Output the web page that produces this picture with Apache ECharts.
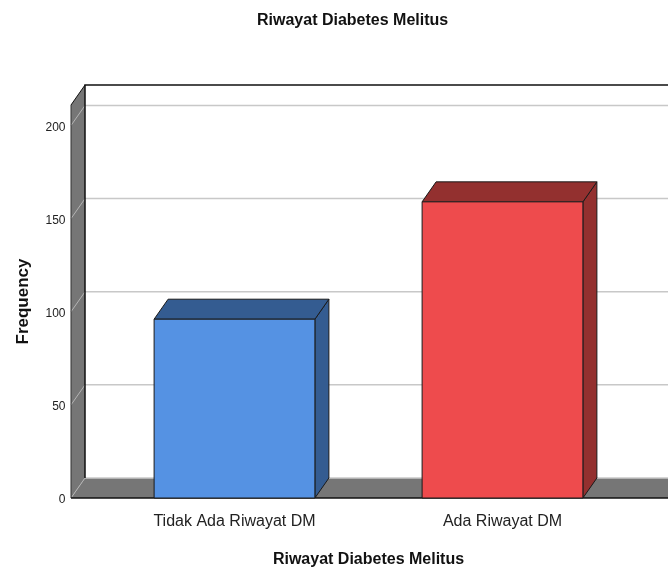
<!DOCTYPE html>
<html>
<head>
<meta charset="utf-8">
<script src="https://cdn.jsdelivr.net/npm/echarts@6/dist/echarts.min.js"></script>
<style>
html,body{margin:0;padding:0;background:#fff;}
#chart{width:668px;height:570px;}
</style>
</head>
<body>
<div id="chart"></div>
<script>
// ---- data ----
const categories = ['Tidak Ada Riwayat DM', 'Ada Riwayat DM'];
const frequency = [96, 159];
const yTicks = [0, 50, 100, 150, 200];
const yMax = 211;

// ---- style ----
const frontColors = ['#5592E3', '#EE4B4D'];
const darkColors = ['#345C91', '#93302F'];
const DEPTH = [14, -20];
const WALL = '#767676';
const FONT = '"Liberation Sans", Arial, sans-serif';

const chart = echarts.init(document.getElementById('chart'));

function renderWalls(params, api) {
  const cs = params.coordSys;
  const dx = DEPTH[0], dy = DEPTH[1];
  const fl = cs.x - 29.5;
  const right = cs.x + cs.width + 200;
  const y0 = api.coord([0, 0])[1];
  const yT = api.coord([0, yMax])[1];
  const children = [];
  children.push({type: 'rect', shape: {x: fl + dx, y: yT + dy, width: right - fl - dx, height: y0 - yT}, style: {fill: '#fff'}});
  // left wall
  children.push({type: 'polygon', shape: {points: [[fl, yT], [fl + dx, yT + dy], [fl + dx, y0 + dy], [fl, y0]]}, style: {fill: WALL}});
  // floor
  children.push({type: 'polygon', shape: {points: [[fl, y0], [fl + dx, y0 + dy], [right, y0 + dy], [right, y0]]}, style: {fill: WALL}});
  // grid lines
  yTicks.forEach(function (t) {
    const yv = api.coord([0, t])[1];
    children.push({type: 'line', shape: {x1: fl + dx, y1: yv + dy, x2: right, y2: yv + dy}, style: {stroke: '#c8c8c8', lineWidth: 1.5}});
    children.push({type: 'line', shape: {x1: fl, y1: yv, x2: fl + dx, y2: yv + dy}, style: {stroke: '#b4b4b4', lineWidth: 1}});
  });
  // edges
  children.push({type: 'polyline', shape: {points: [[fl + dx, y0 + dy], [fl + dx, yT + dy], [right, yT + dy]]}, style: {stroke: '#111', lineWidth: 1.5, fill: null}});
  children.push({type: 'line', shape: {x1: fl, y1: yT, x2: fl + dx, y2: yT + dy}, style: {stroke: '#111', lineWidth: 1}});
  children.push({type: 'line', shape: {x1: fl, y1: yT, x2: fl, y2: y0}, style: {stroke: '#333', lineWidth: 1}});
  children.push({type: 'line', shape: {x1: fl, y1: y0, x2: right, y2: y0}, style: {stroke: '#111', lineWidth: 1.5}});
  return {type: 'group', children: children};
}

function renderBar(params, api) {
  const i = params.dataIndex;
  const c = api.coord([api.value(0), api.value(1)]);
  const b = api.coord([api.value(0), 0]);
  const w = api.size([1, 0])[0] * 0.6;
  const l = c[0] - w / 2, r = c[0] + w / 2, t = c[1], bot = b[1];
  const dx = DEPTH[0], dy = DEPTH[1];
  const edge = {stroke: '#1a1a1a', lineWidth: 1};
  return {type: 'group', children: [
    {type: 'polygon', shape: {points: [[r, t], [r + dx, t + dy], [r + dx, bot + dy], [r, bot]]}, style: Object.assign({fill: darkColors[i]}, edge)},
    {type: 'polygon', shape: {points: [[l, t], [l + dx, t + dy], [r + dx, t + dy], [r, t]]}, style: Object.assign({fill: darkColors[i]}, edge)},
    {type: 'rect', shape: {x: l, y: t, width: w, height: bot - t}, style: Object.assign({fill: frontColors[i]}, edge)}
  ]};
}

chart.setOption({
  animation: false,
  backgroundColor: '#fff',
  title: {
    text: 'Riwayat Diabetes Melitus',
    left: 252, top: 8,
    textStyle: {fontFamily: FONT, fontSize: 16, fontWeight: 'bold', color: '#111'}
  },
  grid: {left: 100.5, right: 31.5, top: 105, bottom: 72, containLabel: false, outerBoundsMode: 'none'},
  xAxis: {
    type: 'category',
    data: categories,
    name: 'Riwayat Diabetes Melitus',
    nameLocation: 'middle',
    nameGap: 54,
    nameTextStyle: {fontFamily: FONT, fontSize: 16, fontWeight: 'bold', color: '#111'},
    axisLine: {show: false},
    axisTick: {show: false},
    axisLabel: {fontFamily: FONT, fontSize: 16, color: '#222', margin: 16}
  },
  yAxis: {
    type: 'value',
    min: 0, max: yMax, interval: 50,
    name: 'Frequency',
    nameLocation: 'middle',
    nameGap: 69,
    nameTextStyle: {fontFamily: FONT, fontSize: 17, fontWeight: 'bold', color: '#111'},
    axisLine: {show: false},
    axisTick: {show: false},
    splitLine: {show: false},
    axisLabel: {fontFamily: FONT, color: '#222', margin: 35, showMaxLabel: false,
      formatter: function (v) { return yTicks.indexOf(v) >= 0 ? '{a|' + v + '}' : ''; },
      rich: {a: {fontFamily: FONT, fontSize: 12, color: '#222', padding: [4, 0, 0, 0]}}}
  },
  series: [
    {type: 'custom', renderItem: renderWalls, data: [[0, 0]], z: 1, silent: true},
    {type: 'custom', renderItem: renderBar, data: frequency.map(function (v, i) { return [i, v]; }), z: 2}
  ]
});
</script>
</body>
</html>
